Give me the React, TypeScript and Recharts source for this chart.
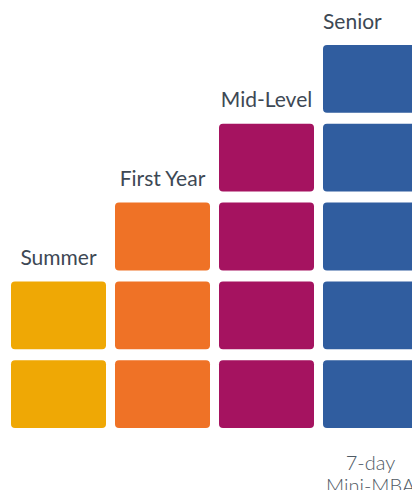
import React from "react";
import { BarChart, Bar, XAxis, YAxis, LabelList } from "recharts";

const categories = ["Summer", "First Year", "Mid-Level", "Senior"];
const blockCounts = [2, 3, 4, 5];
const subLabels = ["", "", "", "7-day\nMini-MBA"];
const colors = ["#EFA805", "#EF7226", "#A51360", "#305D9F"];

const data = categories.map((name, i) => ({
  name,
  blocks: blockCounts[i],
  sub: subLabels[i],
}));

const GAP_X = 4.5;
const GAP_Y = 5.5;

const BlockStack = (props: any) => {
  const { x, y, width, height, payload, index } = props;
  const n = payload.blocks;
  const unit = height / n;
  const rects = [];
  for (let i = 0; i < n; i++) {
    const top = y + height - (i + 1) * unit + GAP_Y;
    rects.push(
      <rect
        key={i}
        x={x + GAP_X}
        y={top}
        width={width - 2 * GAP_X}
        height={unit - 2 * GAP_Y}
        rx={4}
        ry={4}
        fill={colors[index]}
      />
    );
  }
  return <g>{rects}</g>;
};

const ColumnLabels = (props: any) => {
  const { x, y, width, height, index } = props;
  const isLast = index === categories.length - 1;
  const cx = x + width / 2;
  const left = x + GAP_X;
  const sub = subLabels[index];
  const subLines = sub ? sub.split("\n") : [];
  return (
    <g>
      <text
        x={isLast ? left : cx}
        y={y + GAP_Y - 16.5}
        textAnchor={isLast ? "start" : "middle"}
        fontFamily="Lato, 'Noto Sans', sans-serif"
        fontSize={21}
        fill="#3D4854"
      >
        {categories[index]}
      </text>
      {subLines.map((line: string, i: number) => (
        <text
          key={i}
          x={cx}
          y={y + height + 36 + i * 23}
          textAnchor="middle"
          fontFamily="Lato, 'Noto Sans', sans-serif"
          fontWeight={300}
          fontSize={20}
          fill="#4F5A65"
        >
          {line}
        </text>
      ))}
    </g>
  );
};

export default function App() {
  return (
    <div
      style={{
        position: "absolute",
        left: 0,
        top: 0,
        width: 412,
        height: 490,
        overflow: "hidden",
        background: "#fff",
      }}
    >
      <BarChart
        width={432}
        height={490}
        data={data}
        margin={{ top: 39.5, right: 9.5, bottom: 56.5, left: 6.5 }}
        barCategoryGap={0}
      >
        <XAxis dataKey="name" hide />
        <YAxis hide domain={[0, 5]} />
        <Bar
          dataKey="blocks"
          shape={<BlockStack />}
          isAnimationActive={false}
        >
          <LabelList dataKey="name" content={<ColumnLabels />} />
        </Bar>
      </BarChart>
    </div>
  );
}
